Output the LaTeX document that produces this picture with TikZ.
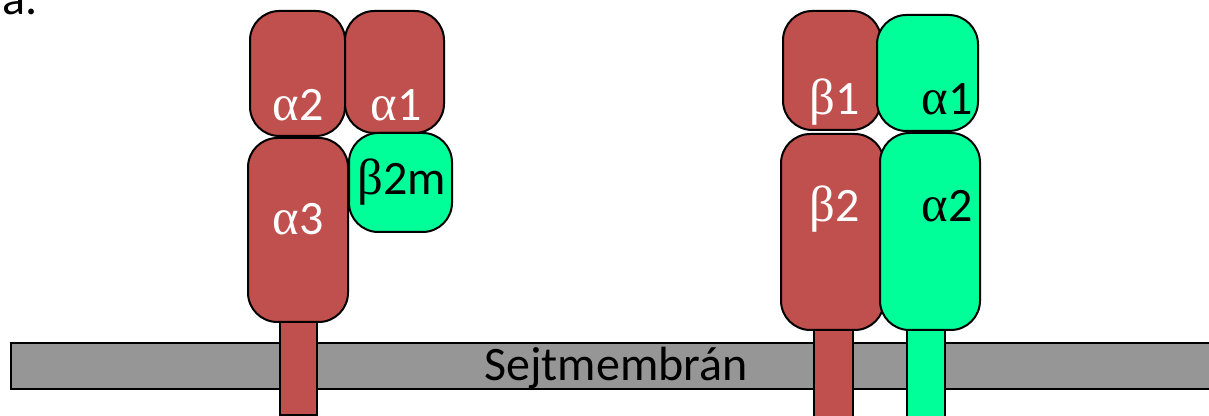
\documentclass[tikz,border=0pt]{standalone}
\usepackage{fontspec}
\setmainfont{Carlito}
\newfontfamily\grk{Liberation Serif}
\definecolor{domred}{HTML}{C0504D}
\definecolor{domgreen}{HTML}{00FF99}
\definecolor{membrane}{HTML}{969696}
\tikzset{
  part/.style={draw=black, line width=1.5pt, inner sep=0pt, outer sep=0pt},
  redbox/.style={part, fill=domred, rounded corners=22pt},
  greenbox/.style={part, fill=domgreen, rounded corners=22pt},
  redbar/.style={part, fill=domred},
  greenbar/.style={part, fill=domgreen},
  lipid/.style={part, fill=membrane},
  lbl/.style={inner sep=0pt, anchor=base, font=\fontsize{36}{43}\selectfont},
  white lbl/.style={lbl, text=white},
}
% name, style, left, top, right, bottom (pixel units)
\newcommand\domain[6]{%
  \node[#2, minimum width={(#5-#3)*0.75pt}, minimum height={(#6-#4)*0.75pt}]
    (#1) at ({(#3+#5)/2},{(#4+#6)/2}) {};}
\newcommand\gk[1]{{\grk\fontsize{38}{43}\selectfont #1}}
\begin{document}
\begin{tikzpicture}[x=0.75pt, y=-0.75pt]
\useasboundingbox (0,0) rectangle (1209,416);
% cell membrane
\domain{mem}{lipid}{11}{343}{1216}{389}
% class I molecule
\domain{stalkI}{redbar}{280}{318}{317}{415}
\domain{aIII}{redbox}{248}{138}{348}{322}
\domain{aII}{redbox}{250}{11}{345}{136}
\domain{aI}{redbox}{345}{11}{444}{133}
\domain{btwom}{greenbox}{349}{133}{452}{232}
% class II molecule
\domain{stalkB}{redbar}{814}{326}{853}{422}
\domain{stalkA}{greenbar}{907}{326}{945}{422}
\domain{bI}{redbox}{783}{11}{881}{130}
\domain{bII}{redbox}{781}{134}{884}{330}
\domain{gaII}{greenbox}{880}{133}{980}{330}
\domain{gaI}{greenbox}{877}{15}{978}{131}
% labels
\node[lbl, anchor=base west] (tag) at (2,15) {a.};
\node[white lbl] (taII) at (298,121) {\gk{α}2};
\node[white lbl] (taI) at (396,121) {\gk{α}1};
\node[white lbl] (taIII) at (298,235) {\gk{α}3};
\node[lbl] (tbm) at (402,195) {\gk{β}2m};
\node[white lbl] (tbI) at (835,115) {\gk{β}1};
\node[lbl] (tgaI) at (947,115) {\gk{α}1};
\node[white lbl] (tbII) at (835,222) {\gk{β}2};
\node[lbl] (tgaII) at (947,222) {\gk{α}2};
\node[lbl] (tmem) at (616,380) {Sejtmembrán};
\end{tikzpicture}
\end{document}
